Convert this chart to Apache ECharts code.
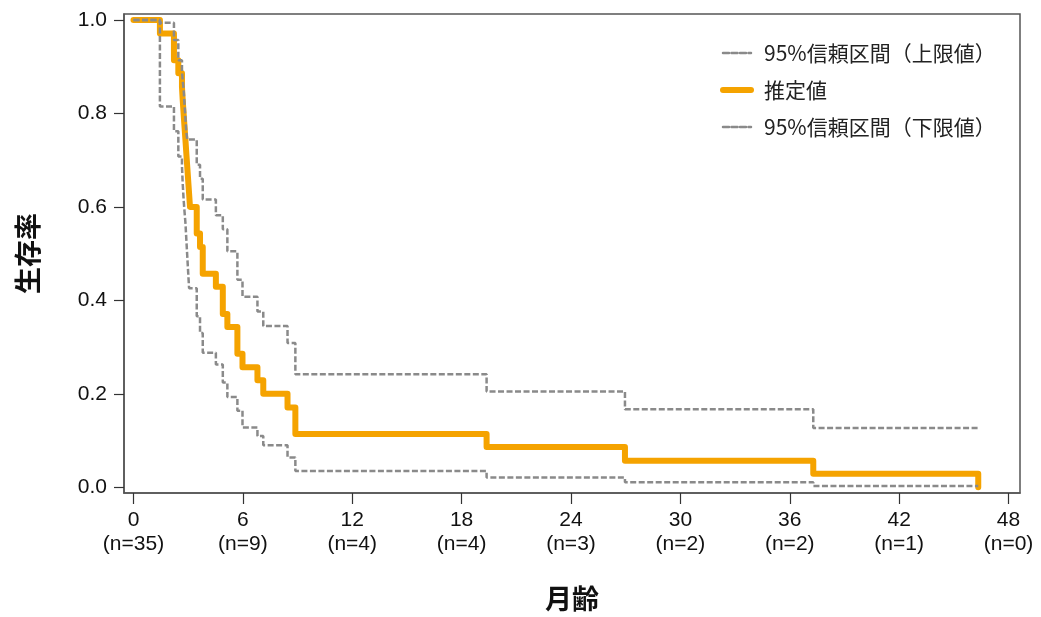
<!DOCTYPE html>
<html>
<head>
<meta charset="utf-8">
<script src="https://cdn.jsdelivr.net/npm/echarts@6/dist/echarts.min.js"></script>
<style>
	body{margin:0;background:#fff;}
	#km{width:1041px;height:617px;}
</style>
</head>
<body>
<div id="km"></div>
<script>
// 月齢（イベント時点）
var months = [0, 1.45, 2.22, 2.46, 2.66, 2.70, 2.75, 2.80, 2.85, 2.90, 2.95, 3.00, 3.05, 3.10, 3.47, 3.65, 3.80, 4.52, 4.90, 5.15, 5.70, 5.98, 6.80, 7.12, 8.45, 8.88, 19.37, 26.96, 37.29, 46.34];
// 推定値
var estimate = [1.0, 0.971, 0.914, 0.886, 0.857, 0.829, 0.800, 0.771, 0.743, 0.714, 0.686, 0.657, 0.629, 0.600, 0.543, 0.514, 0.457, 0.429, 0.371, 0.343, 0.286, 0.257, 0.229, 0.200, 0.171, 0.114, 0.086, 0.057, 0.029, 0.0];
// 95%信頼区間
var upper = [1.0, 0.994, 0.957, 0.914, 0.893, 0.870, 0.852, 0.820, 0.790, 0.760, 0.744, 0.744, 0.744, 0.744, 0.690, 0.660, 0.616, 0.582, 0.552, 0.505, 0.444, 0.408, 0.376, 0.345, 0.309, 0.242, 0.205, 0.167, 0.127, 0.127];
var lower = [1.0, 0.815, 0.762, 0.708, 0.687, 0.650, 0.616, 0.590, 0.566, 0.530, 0.495, 0.460, 0.426, 0.426, 0.366, 0.330, 0.288, 0.263, 0.224, 0.193, 0.164, 0.128, 0.110, 0.090, 0.064, 0.035, 0.021, 0.011, 0.003, 0.003];
// 目盛り
var xTicks = [0, 6, 12, 18, 24, 30, 36, 42, 48];
var atRisk = [35, 9, 4, 4, 3, 2, 2, 1, 0];
var yTicks = [0, 0.2, 0.4, 0.6, 0.8, 1.0];

var nameUpper = '95%信頼区間（上限値）';
var nameEst = '推定値';
var nameLower = '95%信頼区間（下限値）';

window.onload = function() {
	var chart = echarts.init(document.getElementById('km'));
	function pairs(vals) {
		var out = [];
		for (var i = 0; i < months.length; i++) {
			out.push([months[i], vals[i]]);
		}
		return out;
	}
	var font = 'Liberation Sans, Noto Sans CJK JP, sans-serif';
	var dash = {color: '#8a8a8a', width: 2.5, type: [6, 2.5]};
	var option = {
		animation: false,
		grid: {
			left: 124, top: 14, right: 21, bottom: 123,
			show: true, borderColor: '#555', borderWidth: 1.5
		},
		legend: {
			orient: 'vertical',
			left: 715,
			top: 35,
			itemWidth: 28,
			itemHeight: 14,
			itemGap: 11,
			data: [nameUpper, nameEst, nameLower],
			itemStyle: {opacity: 0},
			lineStyle: {width: 'inherit', cap: 'round'},
			textStyle: {
				fontFamily: 'Noto Sans CJK JP',
				fontSize: 21,
				color: '#222',
				lineHeight: 26,
				padding: [0, 0, 0, 8]
			}
		},
		xAxis: {
			type: 'value',
			min: -0.52,
			max: 48.63,
			name: '月齢',
			nameLocation: 'middle',
			nameGap: 92,
			nameTextStyle: {fontFamily: 'Noto Sans CJK JP', fontSize: 27, fontWeight: 'bold', color: '#111'},
			axisLine: {show: true, onZero: false, lineStyle: {color: '#555', width: 1.5}},
			axisTick: {show: true, length: 11, customValues: xTicks, lineStyle: {color: '#333', width: 1.2}},
			splitLine: {show: false},
			axisLabel: {
				customValues: xTicks,
				margin: 15,
				fontFamily: font,
				fontSize: 21,
				lineHeight: 24,
				color: '#111',
				formatter: function(v) {
					var i = Math.round(v / 6);
					return v + '\n(n=' + atRisk[i] + ')';
				}
			}
		},
		yAxis: {
			type: 'value',
			min: -0.0122,
			max: 1.0128,
			name: '生存率',
			nameLocation: 'middle',
			nameRotate: 90,
			nameGap: 83,
			nameTextStyle: {fontFamily: 'Noto Sans CJK JP', fontSize: 27, fontWeight: 'bold', color: '#111'},
			axisLine: {show: true, onZero: false, lineStyle: {color: '#555', width: 1.5}},
			axisTick: {show: true, length: 10, customValues: yTicks, lineStyle: {color: '#333', width: 1.2}},
			splitLine: {show: false},
			axisLabel: {
				customValues: yTicks,
				margin: 17,
				fontFamily: font,
				fontSize: 21,
				color: '#111',
				formatter: function(v) { return v.toFixed(1); }
			}
		},
		series: [
			{
				name: nameEst,
				type: 'line',
				step: 'end',
				showSymbol: false,
				symbol: 'none',
				data: pairs(estimate),
				lineStyle: {color: '#f5a300', width: 6, cap: 'round', join: 'round'},
				itemStyle: {color: '#f5a300'}
			},
			{
				name: nameUpper,
				type: 'line',
				step: 'end',
				showSymbol: false,
				symbol: 'none',
				data: pairs(upper),
				lineStyle: dash,
				itemStyle: {color: '#8a8a8a'}
			},
			{
				name: nameLower,
				type: 'line',
				step: 'end',
				showSymbol: false,
				symbol: 'none',
				data: pairs(lower),
				lineStyle: dash,
				itemStyle: {color: '#8a8a8a'}
			}
		]
	};
	chart.setOption(option);
};
</script>
</body>
</html>
